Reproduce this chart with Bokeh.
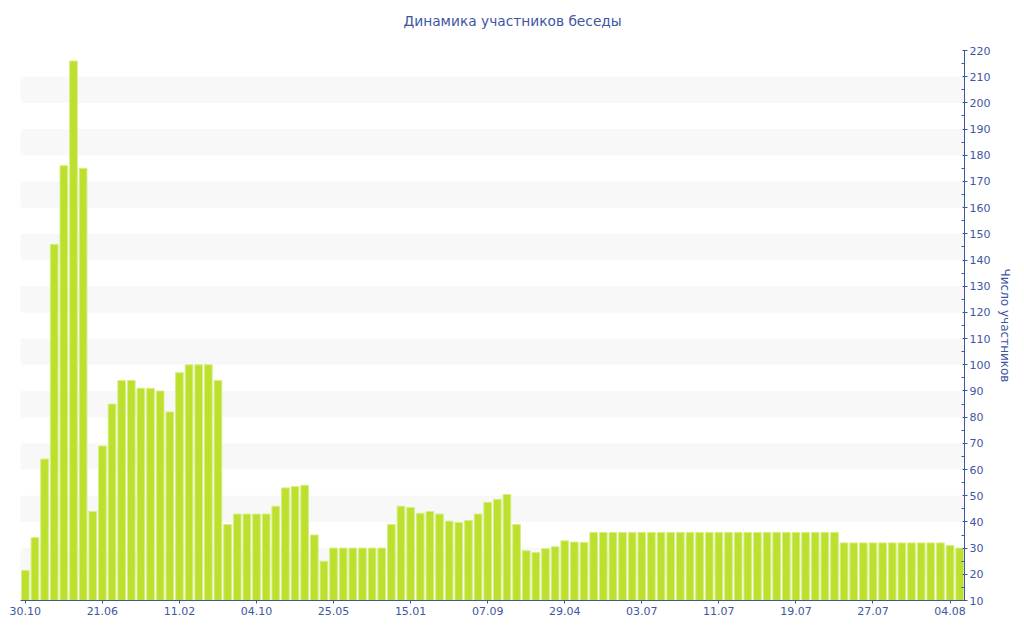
from bokeh.plotting import figure
from bokeh.models import Range1d, LinearAxis, FixedTicker, BoxAnnotation, ColumnDataSource, Title
from bokeh.embed import file_html
from bokeh.resources import INLINE

title_text = "Динамика участников беседы"
y_axis_title = "Число участников"

tick_labels = ["30.10", "21.06", "11.02", "04.10", "25.05", "15.01", "07.09",
               "29.04", "03.07", "11.07", "19.07", "27.07", "04.08"]
tick_every = 8

members = [21.5, 34, 64, 146, 176, 216, 175, 44, 69, 85,
           94, 94, 91, 91, 90, 82, 97, 100, 100, 100,
           94, 39, 43, 43, 43, 43, 46, 53, 53.5, 54,
           35, 25, 30, 30, 30, 30, 30, 30, 39, 46,
           45.5, 43.3, 44, 43, 40.3, 39.8, 40.5, 43, 47.5, 48.6,
           50.5, 39, 29, 28.3, 29.8, 30.5, 32.8, 32.3, 32.2, 36,
           36, 36, 36, 36, 36, 36, 36, 36, 36, 36,
           36, 36, 36, 36, 36, 36, 36, 36, 36, 36,
           36, 36, 36, 36, 36, 32, 32, 32, 32, 32,
           32, 32, 32, 32, 32, 32, 31, 30]

y_min, y_max, y_step = 10, 220, 10

BLUE = "#3d57a3"
BAR = "#bde02e"
FONT = "DejaVu Sans"

idx = list(range(len(members)))
src = ColumnDataSource(dict(x=idx, top=members))

p = figure(width=1016, height=632, output_backend="svg", toolbar_location=None,
           x_range=Range1d(-0.5, len(members) - 0.5), y_range=Range1d(y_min, y_max),
           y_axis_location=None, x_axis_location=None,
           min_border_left=20, min_border_right=52, min_border_top=50, min_border_bottom=32)
p.frame_width = 944
p.frame_height = 550
p.outline_line_color = None
p.background_fill_color = "white"
p.border_fill_color = "white"
p.xgrid.visible = False
p.ygrid.visible = False

p.title.text = title_text
p.title.align = "left"
p.title.offset = 383
p.title.text_font = FONT
p.title.text_font_size = "13.75px"
p.title.text_font_style = "normal"
p.title.text_color = BLUE
p.title.standoff = 0

# blank gap between title and plot area
p.add_layout(Title(text=" ", text_font_size="1px", standoff=19), "above")

# alternating background bands
for v in range(y_min + y_step, y_max, 2 * y_step):
    p.add_layout(BoxAnnotation(bottom=v, top=v + y_step, fill_color="#f8f8f8",
                               fill_alpha=1, line_color=None, level="underlay"))

p.vbar(x="x", top="top", bottom=y_min, width=0.8, source=src,
       fill_color=BAR, line_color="#d6ee86", line_width=1)

yaxis = LinearAxis(axis_label=y_axis_title)
yaxis.ticker = FixedTicker(ticks=list(range(y_min, y_max + 1, y_step)),
                           minor_ticks=list(range(y_min + 5, y_max, y_step)))
yaxis.axis_line_color = BLUE
yaxis.major_tick_line_color = BLUE
yaxis.minor_tick_line_color = BLUE
yaxis.major_tick_in = 2
yaxis.major_tick_out = 3
yaxis.minor_tick_in = 3
yaxis.minor_tick_out = 0
yaxis.major_label_standoff = 2
yaxis.major_label_text_color = BLUE
yaxis.major_label_text_font = FONT
yaxis.major_label_text_font_size = "11px"
yaxis.axis_label_text_color = BLUE
yaxis.axis_label_text_font = FONT
yaxis.axis_label_text_font_size = "12px"
yaxis.axis_label_text_font_style = "normal"
yaxis.axis_label_standoff = 5
p.add_layout(yaxis, "right")

tick_pos = [i * tick_every for i in range(len(tick_labels))]
xaxis = LinearAxis()
xaxis.ticker = FixedTicker(ticks=tick_pos, minor_ticks=[])
xaxis.major_label_overrides = {t: lab for t, lab in zip(tick_pos, tick_labels)}
xaxis.axis_line_color = BLUE
xaxis.major_tick_line_color = BLUE
xaxis.major_tick_in = 0
xaxis.major_tick_out = 3
xaxis.major_label_standoff = 3
xaxis.major_label_text_color = BLUE
xaxis.major_label_text_font = FONT
xaxis.major_label_text_font_size = "11px"
p.add_layout(xaxis, "below")

open("out.html", "w").write(file_html(p, INLINE))
